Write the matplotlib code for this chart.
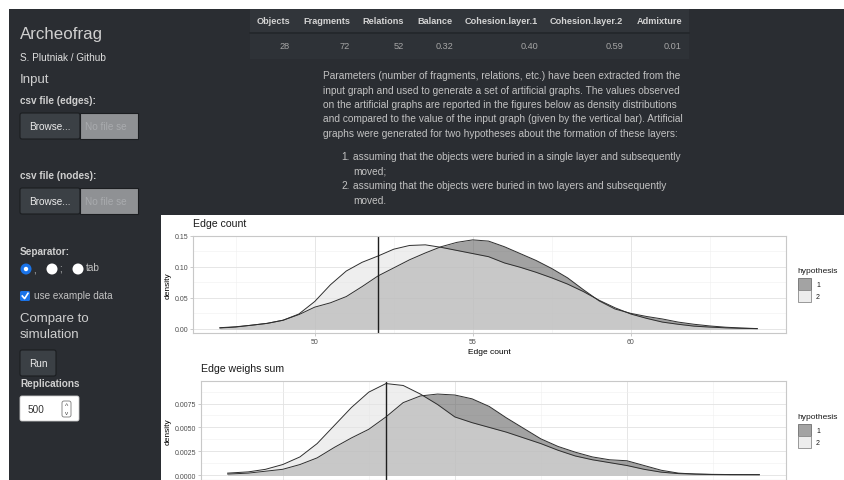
import matplotlib
matplotlib.use('Agg')
import matplotlib.pyplot as plt
from matplotlib.patches import Rectangle, FancyBboxPatch, Circle
from matplotlib.ticker import MultipleLocator, FormatStrFormatter

plt.rcParams['font.family'] = ['Liberation Sans', 'DejaVu Sans']

# ---------------- data ----------------
table_cols = ["Objects", "Fragments", "Relations", "Balance",
              "Cohesion.layer.1", "Cohesion.layer.2", "Admixture"]
table_vals = ["28", "72", "52", "0.32", "0.40", "0.59", "0.01"]

hypotheses = ["1", "2"]

edge_x = [47, 47.5, 48, 48.5, 49, 49.5, 50, 50.5, 51, 51.5, 52, 52.5, 53, 53.5,
          54, 54.5, 55, 55.5, 56, 56.5, 57, 57.5, 58, 58.5, 59, 59.5, 60, 60.5,
          61, 61.5, 62, 62.5, 63, 63.5, 64]
edge_h1 = [0.0015, 0.003, 0.006, 0.009, 0.014, 0.023, 0.035, 0.042, 0.052, 0.068,
           0.085, 0.098, 0.111, 0.122, 0.132, 0.139, 0.143, 0.141, 0.132, 0.121,
           0.110, 0.097, 0.082, 0.063, 0.045, 0.032, 0.025, 0.020, 0.016, 0.011,
           0.0075, 0.0048, 0.0028, 0.0015, 0.0006]
edge_h2 = [0.002, 0.0035, 0.006, 0.009, 0.014, 0.024, 0.044, 0.071, 0.093, 0.107,
           0.117, 0.128, 0.134, 0.135, 0.131, 0.126, 0.121, 0.116, 0.106, 0.099,
           0.091, 0.082, 0.072, 0.060, 0.046, 0.034, 0.024, 0.017, 0.011, 0.0075,
           0.0045, 0.003, 0.0018, 0.001, 0.0005]
edge_observed = 52

weight_x = [68, 80, 90, 100, 110, 120, 130, 140, 150, 160, 170, 180, 190, 200, 210,
            220, 230, 240, 250, 260, 270, 280, 290, 300, 310, 320, 330, 340, 350,
            360, 377]
weight_h1 = [0.0001, 0.0002, 0.0004, 0.0006, 0.0011, 0.0018, 0.0029, 0.0039, 0.0048,
             0.0061, 0.0076, 0.0083, 0.0085, 0.0084, 0.0080, 0.0072, 0.0060, 0.0049,
             0.0038, 0.0030, 0.0024, 0.0019, 0.0016, 0.0015, 0.0010, 0.0005, 0.0002,
             0.0001, 0.00005, 0.00003, 0.00003]
weight_h2 = [0.0002, 0.00033, 0.0006, 0.0011, 0.0019, 0.0033, 0.0052, 0.0071, 0.0087,
             0.0096, 0.0094, 0.0085, 0.0074, 0.0061, 0.0055, 0.0050, 0.0045, 0.0039,
             0.0033, 0.0026, 0.0020, 0.0016, 0.0013, 0.0010, 0.0006, 0.0003, 0.00015,
             0.0001, 0.00007, 0.00005, 0.00004]
weight_observed = 160

paragraph = [
    "Parameters (number of fragments, relations, etc.) have been extracted from the",
    "input graph and used to generate a set of artificial graphs. The values observed",
    "on the artificial graphs are reported in the figures below as density distributions",
    "and compared to the value of the input graph (given by the vertical bar). Artificial",
    "graphs were generated for two hypotheses about the formation of these layers:",
]
list_items = [
    ("1.", ["assuming that the objects were buried in a single layer and subsequently", "moved;"]),
    ("2.", ["assuming that the objects were buried in two layers and subsequently", "moved."]),
]

# ---------------- figure ----------------
W, H = 845, 481
BG = '#2a2d32'
fig = plt.figure(figsize=(W / 100, H / 100), dpi=100, facecolor=BG)
bg = fig.add_axes([0, 0, 1, 1])
bg.set_xlim(0, W)
bg.set_ylim(H, 0)
bg.axis('off')
bg.set_zorder(0)

HEAD = '#cfcfcf'
BODY = '#c2c2c2'


def rect(x0, y0, x1, y1, **kw):
    bg.add_patch(Rectangle((x0, y0), x1 - x0, y1 - y0, **kw))


def rrect(x0, y0, x1, y1, r=3, **kw):
    bg.add_patch(FancyBboxPatch((x0, y0), x1 - x0, y1 - y0,
                                boxstyle=f"round,pad=0,rounding_size={r}", **kw))


def t(x, y, s, **kw):
    kw.setdefault('va', 'center')
    kw.setdefault('color', BODY)
    bg.text(x, y, s, **kw)


# white page margins
rect(0, 0, W, 10, fc='white', ec='none')
rect(0, 0, 9, H, fc='white', ec='none')

# ---- sidebar ----
t(20, 34, "Archeofrag", fontsize=12.2, color=HEAD)
t(20, 58, "S. Plutniak / Github", fontsize=7.2, color='#e0e0e0')
t(20, 80, "Input", fontsize=9.5, color=HEAD)

ylab_text = {101: "csv file (edges):", 176: "csv file (nodes):"}


def file_input(ylab, y0):
    t(20, ylab, ylab_text[ylab], fontsize=7.2, weight='bold', color=HEAD)
    rrect(20, y0, 80, y0 + 26, r=2, fc='#3b4045', ec='#1b1d20', lw=0.8)
    t(50, y0 + 13, "Browse...", fontsize=7.2, ha='center', color='#ececec')
    rect(80, y0, 138, y0 + 26, fc='#8f9194', ec='#1b1d20', lw=0.8)
    t(85, y0 + 13, "No file se", fontsize=7.2, color='#a9abae')


file_input(101, 114)
file_input(176, 189)

t(20, 252, "Separator:", fontsize=7.2, weight='bold', color=HEAD)
bg.add_patch(Circle((26, 270), 5.5, fc='#1a73e8', ec='none'))
bg.add_patch(Circle((26, 270), 2.2, fc='white', ec='none'))
t(33, 271, ",", fontsize=7.2)
bg.add_patch(Circle((52, 270), 5.5, fc='white', ec='none'))
t(59, 269, ";", fontsize=7.2)
bg.add_patch(Circle((78, 270), 5.5, fc='white', ec='none'))
t(86, 268, "tab", fontsize=7.2)

rrect(20, 292, 30, 302, r=1.5, fc='#1a73e8', ec='none')
bg.plot([22.3, 24.6, 28], [297, 299.6, 294.3], color='white', lw=1.2)
t(34, 296, "use example data", fontsize=7.2)

t(20, 319, "Compare to", fontsize=9.5, color=HEAD)
t(20, 335, "simulation", fontsize=9.5, color=HEAD)

rrect(20, 351, 56, 377, r=2, fc='#3b4045', ec='#1b1d20', lw=0.8)
t(38, 364, "Run", fontsize=7.2, ha='center', color='#ececec')
t(20, 384, "Replications", fontsize=7.2, weight='bold', color=HEAD)
rrect(20, 397, 79, 422, r=2, fc='white', ec='#cccccc', lw=0.6)
t(28, 410, "500", fontsize=7.2, color='#333333')
rrect(62, 402, 71, 418, r=2, fc='white', ec='#777777', lw=0.6)
t(66.5, 406.5, "^", fontsize=5, ha='center', color='#444444')
t(66.5, 413.5, "v", fontsize=4.5, ha='center', color='#444444')

# ---- table ----
rect(250, 10, 689, 33, fc='#31353a', ec='none')
rect(250, 33, 689, 60, fc='#2e3237', ec='none')
bg.plot([250, 689], [33.5, 33.5], color='#23262a', lw=1.2)
col_right = [290, 350, 404, 453, 538, 623, 682]
for xr, c, v in zip(col_right, table_cols, table_vals):
    t(xr, 21.5, c, fontsize=6.6, weight='bold', ha='right', color='#d4d4d4')
    t(xr, 46.5, v, fontsize=6.6, ha='right', color='#a6a6a6')

# ---- paragraph ----
for i, line in enumerate(paragraph):
    t(323, 76 + i * 14.5, line, fontsize=7.25)
yy = 157
for num, lines in list_items:
    t(350, yy, num, fontsize=7.25, ha='right')
    for ln in lines:
        t(353, yy, ln, fontsize=7.25)
        yy += 14.6

# ---- white plot panel ----
rect(161, 216, W, H, fc='white', ec='none')

C1, C2, ALPHA = '#646464', '#e3e3e3', 0.6
KEY1, KEY2 = '#a3a3a3', '#ededed'


def density_panel(box, x, h1, h2, obs, xlim, ylim, xmaj, ymaj, yfmt, title, xlabel):
    l, tp, r, b = box
    ax = fig.add_axes([l / W, 1 - b / H, (r - l) / W, (b - tp) / H])
    ax.set_zorder(2)
    ax.set_facecolor('white')
    ax.set_xlim(*xlim)
    ax.set_ylim(*ylim)
    ax.xaxis.set_major_locator(MultipleLocator(xmaj))
    ax.xaxis.set_minor_locator(MultipleLocator(xmaj / 2))
    ax.yaxis.set_major_locator(MultipleLocator(ymaj))
    ax.yaxis.set_minor_locator(MultipleLocator(ymaj / 2))
    ax.yaxis.set_major_formatter(FormatStrFormatter(yfmt))
    ax.xaxis.set_major_formatter(FormatStrFormatter('%d'))
    ax.set_axisbelow(True)
    ax.grid(which='major', color='#e2e2e2', lw=0.6)
    ax.grid(which='minor', color='#f0f0f0', lw=0.4)
    ax.tick_params(which='major', length=2, width=0.5, color='#b5b5b5',
                   labelsize=5, labelcolor='#4d4d4d', pad=1.5)
    ax.tick_params(which='minor', length=0)
    for s in ax.spines.values():
        s.set_color('#c8c8c8')
        s.set_linewidth(0.8)
    ax.fill_between(x, 0, h1, color=C1, alpha=ALPHA, lw=0)
    ax.plot(x, h1, color='#2e2e2e', lw=0.7)
    ax.fill_between(x, 0, h2, color=C2, alpha=ALPHA, lw=0)
    ax.plot(x, h2, color='#2e2e2e', lw=0.7)
    ax.axvline(obs, color='#1e1e1e', lw=1.0)
    ax.set_ylabel("density", fontsize=6, labelpad=2)
    if xlabel:
        ax.set_xlabel(xlabel, fontsize=6, labelpad=2)
    else:
        # the x axis of this panel lies below the visible area
        ax.tick_params(axis='x', labelbottom=False, length=0)
    t(l, tp - 12.5, title, fontsize=7.6, color='#1a1a1a')
    # legend
    ly = (tp + b) / 2 - 14
    t(797, ly, "hypothesis", fontsize=6, color='#1a1a1a')
    rect(798, ly + 8, 811, ly + 20, fc=KEY1, ec='#6e6e6e', lw=0.6)
    rect(798, ly + 20, 811, ly + 32, fc=KEY2, ec='#8a8a8a', lw=0.6)
    t(816, ly + 14, hypotheses[0], fontsize=5, color='#1a1a1a')
    t(816, ly + 26, hypotheses[1], fontsize=5, color='#1a1a1a')
    return ax


density_panel((193, 236.5, 786, 334.4), edge_x, edge_h1, edge_h2, edge_observed,
              (46.15, 64.91), (-0.00715, 0.150), 5, 0.05, '%.2f',
              "Edge count", "Edge count")
density_panel((201, 382, 786, 480.5), weight_x, weight_h1, weight_h2, weight_observed,
              (52.5, 392.5), (-0.00047, 0.00987), 100, 0.0025, '%.4f',
              "Edge weighs sum", None)

fig.savefig('out.png', dpi=100, facecolor=BG)
